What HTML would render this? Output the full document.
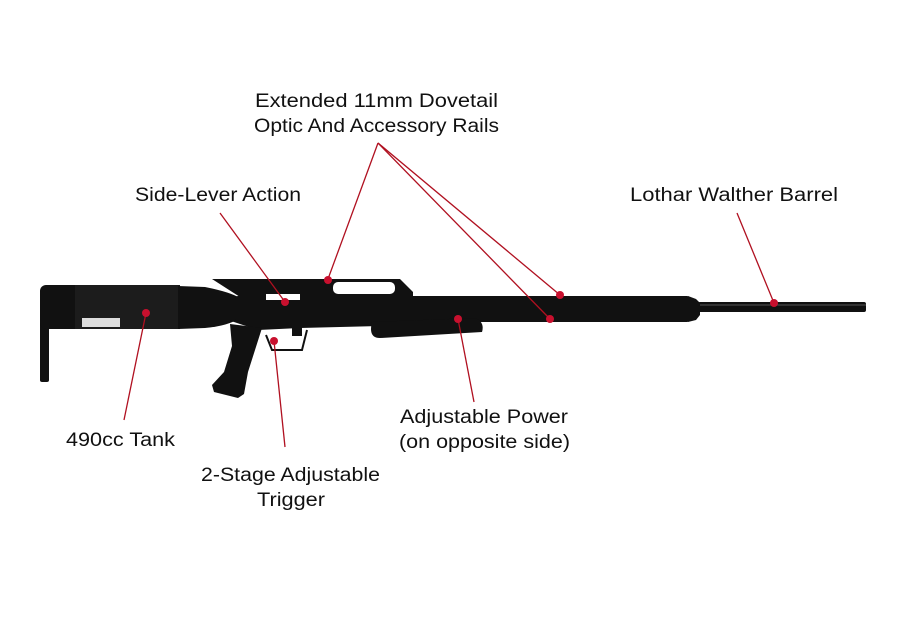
<!DOCTYPE html>
<html><head><style>html,body{margin:0;padding:0;background:#fff;}svg{display:block}</style></head>
<body>
<svg width="901" height="644" viewBox="0 0 901 644" xmlns="http://www.w3.org/2000/svg">
<rect width="901" height="644" fill="#fff"/>
<g font-family="'Liberation Sans', sans-serif" font-size="19" fill="#111">
<text x="255" y="107" textLength="243" lengthAdjust="spacingAndGlyphs">Extended 11mm Dovetail</text>
<text x="254" y="132" textLength="245" lengthAdjust="spacingAndGlyphs">Optic And Accessory Rails</text>
<text x="135" y="201" textLength="166" lengthAdjust="spacingAndGlyphs">Side-Lever Action</text>
<text x="630" y="201" textLength="208" lengthAdjust="spacingAndGlyphs">Lothar Walther Barrel</text>
<text x="66" y="446" textLength="109" lengthAdjust="spacingAndGlyphs">490cc Tank</text>
<text x="400" y="423" textLength="168" lengthAdjust="spacingAndGlyphs">Adjustable Power</text>
<text x="399" y="448" textLength="171" lengthAdjust="spacingAndGlyphs">(on opposite side)</text>
<text x="201" y="481" textLength="179" lengthAdjust="spacingAndGlyphs">2-Stage Adjustable</text>
<text x="257" y="506" textLength="68" lengthAdjust="spacingAndGlyphs">Trigger</text>
</g>
<!-- rifle -->
<g fill="#111">
<rect x="40" y="290" width="9" height="92" rx="2"/>
<rect x="40" y="285" width="140" height="44" rx="6"/>
<rect x="75" y="285" width="105" height="44" fill="#1c1c1c"/>
<path d="M178 286 L205 287 Q230 292 240 298 L240 318 Q228 326 205 328 L178 329 Z"/>
<rect x="82" y="318" width="38" height="9" fill="#ddd"/>
<path d="M212 279 L400 279 L413 292 L413 297 L300 297 L300 294 L266 294 L266 297 L240 297 Z"/>
<rect x="333" y="282" width="62" height="12" rx="5" fill="#fff"/>
<rect x="235" y="296" width="455" height="26" rx="3"/>
<path d="M688 296 L696 299 L700 303 L700 315 L696 320 L688 322 Z"/>
<rect x="266" y="294" width="34" height="6" fill="#fff"/>
<rect x="698" y="302" width="168" height="10" rx="2"/>
<line x1="700" y1="305" x2="866" y2="305" stroke="#555" stroke-width="1"/>
<path d="M228 320 L380 320 L380 326 L300 328 L258 330 Z"/>
<path d="M372 322 L475 318 Q485 322 482 332 L380 338 Q368 338 372 322 Z"/>
<path d="M230 324 L262 328 L255 350 L248 372 L244 394 L238 398 L214 392 L212 385 L224 372 L232 346 Z"/>
<path d="M266 335 L272 350 L302 350 L307 330" fill="none" stroke="#111" stroke-width="2"/>
<rect x="292" y="326" width="10" height="10"/>
</g>
<!-- leaders -->
<g stroke="#b01020" stroke-width="1.3" fill="none">
<line x1="378" y1="143" x2="328" y2="279"/>
<line x1="378" y1="143" x2="560" y2="295"/>
<line x1="378" y1="143" x2="550" y2="319"/>
<line x1="220" y1="213" x2="285" y2="302"/>
<line x1="737" y1="213" x2="774" y2="303"/>
<line x1="146" y1="313" x2="124" y2="420"/>
<line x1="274" y1="341" x2="285" y2="447"/>
<line x1="458" y1="319" x2="474" y2="402"/>
</g>
<g fill="#c8102e">
<circle cx="328" cy="280" r="4"/><circle cx="560" cy="295" r="4"/><circle cx="550" cy="319" r="4"/>
<circle cx="285" cy="302" r="4"/><circle cx="774" cy="303" r="4"/><circle cx="146" cy="313" r="4"/>
<circle cx="274" cy="341" r="4"/><circle cx="458" cy="319" r="4"/>
</g>
</svg>
</body></html>
